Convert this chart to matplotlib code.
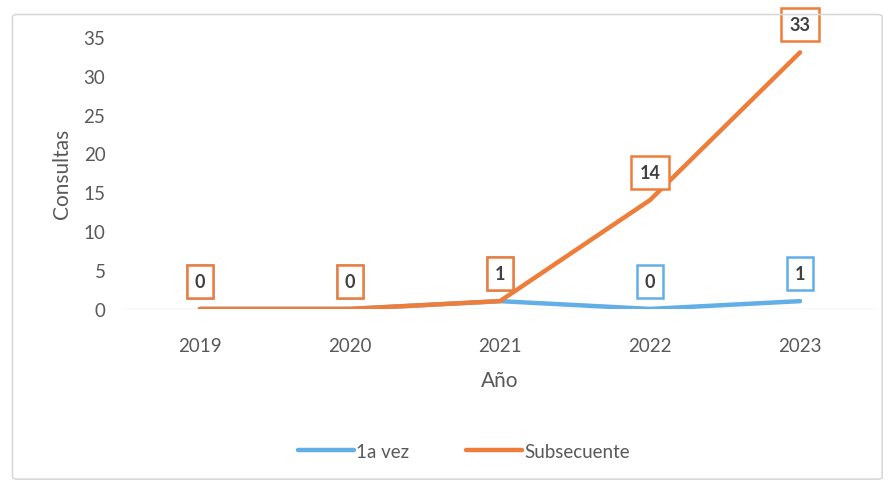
import matplotlib
matplotlib.use("Agg")
import matplotlib.pyplot as plt
import matplotlib.patches as mpatches

years = ['2019', '2020', '2021', '2022', '2023']
primera_vez = [0, 0, 1, 0, 1]
subsecuente = [0, 0, 1, 14, 33]

blue = '#62AEE6'
orange = '#EF7D3A'
gray = '#595959'

plt.rcParams['font.family'] = ['Lato', 'DejaVu Sans']

fig = plt.figure(figsize=(8.92, 4.85), dpi=100)
ax = fig.add_axes([0.140, 0.361, 0.841, 0.561])

# marco exterior del grafico
fig.patches.append(mpatches.FancyBboxPatch((0.014, 0.01), 0.975, 0.958, boxstyle='round,pad=0,rounding_size=0.005',
                                           transform=fig.transFigure, fill=False, edgecolor='#D9D9D9', lw=1.2))

xs = range(len(years))
ax.axhline(0, color='#D9D9D9', lw=1, zorder=1)
ax.plot(xs, primera_vez, color=blue, lw=3.2, label='1a vez', zorder=2, solid_capstyle='round')
ax.plot(xs, subsecuente, color=orange, lw=3.2, label='Subsecuente', zorder=3, solid_capstyle='round')

def etiquetas(vals, color, z):
    for i, v in enumerate(vals):
        ax.annotate(str(v), (i, v), xytext=(0, 20), textcoords='offset points', ha='center', va='center',
                    fontsize=13, fontweight='bold', color='#404040', zorder=z, annotation_clip=False,
                    bbox=dict(boxstyle='square,pad=0.45', fc='white', ec=color, lw=1.8))

etiquetas(primera_vez, blue, 4)
etiquetas(subsecuente, orange, 5)

ax.set_xlim(-0.5, 4.5)
ax.set_ylim(0, 35)
ax.set_xticks(list(xs))
ax.set_xticklabels(years)
ax.set_yticks(range(0, 36, 5))
ax.tick_params(length=0, labelsize=13.5, colors=gray)
ax.tick_params(axis='x', pad=20)
ax.tick_params(axis='y', pad=14)
for s in ax.spines.values():
    s.set_visible(False)

ax.set_xlabel('Año', fontsize=15, color=gray, labelpad=12)
ax.set_ylabel('Consultas', fontsize=15, color=gray, labelpad=8)

fig.legend(loc='center', bbox_to_anchor=(0.52, 0.068), ncol=2, frameon=False, fontsize=13.5,
           labelcolor=gray, handlelength=3.0, handletextpad=0.1, columnspacing=3.0)

fig.savefig('out.png', dpi=100)
